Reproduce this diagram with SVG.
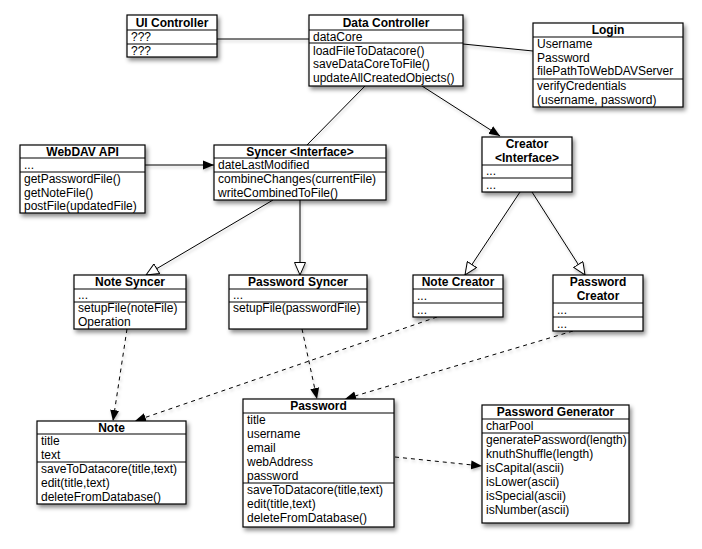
<svg xmlns="http://www.w3.org/2000/svg" width="702" height="549" viewBox="0 0 702 549">
  <style>
    .box { fill: #ffffff; stroke: #000000; stroke-width: 1.2; }
    .div { stroke: #000000; stroke-width: 1.1; }
    .t { font-family: "Liberation Sans", Arial, sans-serif; font-size: 12px; font-weight: bold; text-anchor: middle; fill: #000; }
    .a { font-family: "Liberation Sans", Arial, sans-serif; font-size: 12px; fill: #000; }
    .ln { fill: none; stroke: #000000; stroke-width: 1; }
    .dash { fill: none; stroke: #000000; stroke-width: 1; stroke-dasharray: 4 4; }
    .node { filter: url(#shadow); }
  </style>
  <defs>
    <filter id="shadow" x="-10%" y="-10%" width="130%" height="130%">
      <feDropShadow dx="2" dy="3" stdDeviation="2" flood-color="#000" flood-opacity="0.45"/>
    </filter>
    <filter id="lshadow" x="-10%" y="-10%" width="130%" height="130%">
      <feDropShadow dx="1" dy="2" stdDeviation="1.5" flood-color="#000" flood-opacity="0.25"/>
    </filter>
    <marker id="filled" markerUnits="userSpaceOnUse" markerWidth="12" markerHeight="10" refX="11" refY="5" orient="auto">
      <path d="M0,0.5 L11,5 L0,9.5 z" fill="#000"/>
    </marker>
    <marker id="hollow" markerUnits="userSpaceOnUse" markerWidth="14" markerHeight="12" refX="13" refY="6" orient="auto">
      <path d="M0.5,0.5 L13,6 L0.5,11.5 z" fill="#fff" stroke="#000" stroke-width="1"/>
    </marker>
  </defs>

  <rect width="702" height="549" fill="#ffffff"/>

  <!-- connectors -->
  <g id="connectors" filter="url(#lshadow)">
    <line class="ln" x1="217" y1="39" x2="309" y2="39"/>
    <line class="ln" x1="463" y1="44" x2="533" y2="51"/>
    <line class="ln" x1="365" y1="86" x2="307" y2="145"/>
    <line class="ln" x1="422" y1="86" x2="500" y2="136" marker-end="url(#filled)"/>
    <line class="ln" x1="145" y1="165" x2="214" y2="165" marker-end="url(#filled)"/>
    <line class="ln" x1="273" y1="200" x2="146" y2="275" marker-end="url(#hollow)"/>
    <line class="ln" x1="300" y1="200" x2="300" y2="275" marker-end="url(#hollow)"/>
    <line class="ln" x1="520" y1="192" x2="465" y2="275" marker-end="url(#hollow)"/>
    <line class="ln" x1="532" y1="192" x2="585" y2="275" marker-end="url(#hollow)"/>
    <line class="dash" x1="127" y1="329" x2="113" y2="421" marker-end="url(#filled)"/>
    <line class="dash" x1="302" y1="329" x2="317" y2="399" marker-end="url(#filled)"/>
    <line class="dash" x1="437" y1="317" x2="135" y2="421" marker-end="url(#filled)"/>
    <line class="dash" x1="573" y1="331" x2="345" y2="399" marker-end="url(#filled)"/>
    <line class="dash" x1="395" y1="457" x2="482" y2="466" marker-end="url(#filled)"/>
  </g>

  <!-- UI Controller -->
  <g id="ui-controller">
    <rect class="box node" x="127" y="15" width="90" height="42"/>
    <line class="div" x1="127" y1="30" x2="217" y2="30"/>
    <line class="div" x1="127" y1="44" x2="217" y2="44"/>
    <text class="t" x="172" y="27">UI Controller</text>
    <text class="a" x="131" y="41">???</text>
    <text class="a" x="131" y="55">???</text>
  </g>

  <!-- Data Controller -->
  <g id="data-controller">
    <rect class="box node" x="309" y="15" width="154" height="71"/>
    <line class="div" x1="309" y1="30" x2="463" y2="30"/>
    <line class="div" x1="309" y1="43" x2="463" y2="43"/>
    <text class="t" x="386" y="27">Data Controller</text>
    <text class="a" x="313" y="41">dataCore</text>
    <text class="a" x="313" y="55">loadFileToDatacore()</text>
    <text class="a" x="313" y="68">saveDataCoreToFile()</text>
    <text class="a" x="313" y="82">updateAllCreatedObjects()</text>
  </g>

  <!-- Login -->
  <g id="login">
    <rect class="box node" x="533" y="23" width="150" height="84"/>
    <line class="div" x1="533" y1="37" x2="683" y2="37"/>
    <line class="div" x1="533" y1="79" x2="683" y2="79"/>
    <text class="t" x="608" y="34">Login</text>
    <text class="a" x="537" y="48">Username</text>
    <text class="a" x="537" y="62">Password</text>
    <text class="a" x="537" y="75">filePathToWebDAVServer</text>
    <text class="a" x="537" y="90">verifyCredentials</text>
    <text class="a" x="537" y="104">(username, password)</text>
  </g>

  <!-- WebDAV API -->
  <g id="webdav-api">
    <rect class="box node" x="20" y="145" width="125" height="68"/>
    <line class="div" x1="20" y1="158" x2="145" y2="158"/>
    <line class="div" x1="20" y1="172" x2="145" y2="172"/>
    <text class="t" x="82.5" y="156">WebDAV API</text>
    <text class="a" x="24" y="169">...</text>
    <text class="a" x="24" y="183">getPasswordFile()</text>
    <text class="a" x="24" y="197">getNoteFile()</text>
    <text class="a" x="24" y="210">postFile(updatedFile)</text>
  </g>

  <!-- Syncer interface -->
  <g id="syncer">
    <rect class="box node" x="214" y="145" width="172" height="55"/>
    <line class="div" x1="214" y1="158" x2="386" y2="158"/>
    <line class="div" x1="214" y1="172" x2="386" y2="172"/>
    <text class="t" x="300" y="156">Syncer &lt;Interface&gt;</text>
    <text class="a" x="218" y="169">dateLastModified</text>
    <text class="a" x="218" y="183">combineChanges(currentFile)</text>
    <text class="a" x="218" y="197">writeCombinedToFile()</text>
  </g>

  <!-- Creator interface -->
  <g id="creator">
    <rect class="box node" x="482" y="137" width="90" height="55"/>
    <line class="div" x1="482" y1="165" x2="572" y2="165"/>
    <line class="div" x1="482" y1="178" x2="572" y2="178"/>
    <text class="t" x="527" y="148">Creator</text>
    <text class="t" x="527" y="162">&lt;Interface&gt;</text>
    <text class="a" x="486" y="175">...</text>
    <text class="a" x="486" y="189">...</text>
  </g>

  <!-- Note Syncer -->
  <g id="note-syncer">
    <rect class="box node" x="74" y="275" width="112" height="54"/>
    <line class="div" x1="74" y1="289" x2="186" y2="289"/>
    <line class="div" x1="74" y1="302" x2="186" y2="302"/>
    <text class="t" x="130" y="286">Note Syncer</text>
    <text class="a" x="78" y="299">...</text>
    <text class="a" x="78" y="312">setupFile(noteFile)</text>
    <text class="a" x="78" y="326">Operation</text>
  </g>

  <!-- Password Syncer -->
  <g id="password-syncer">
    <rect class="box node" x="229" y="275" width="138" height="54"/>
    <line class="div" x1="229" y1="289" x2="367" y2="289"/>
    <line class="div" x1="229" y1="302" x2="367" y2="302"/>
    <text class="t" x="298" y="286">Password Syncer</text>
    <text class="a" x="233" y="299">...</text>
    <text class="a" x="233" y="312">setupFile(passwordFile)</text>
  </g>

  <!-- Note Creator -->
  <g id="note-creator">
    <rect class="box node" x="413" y="275" width="90" height="42"/>
    <line class="div" x1="413" y1="289" x2="503" y2="289"/>
    <line class="div" x1="413" y1="303" x2="503" y2="303"/>
    <text class="t" x="458" y="286">Note Creator</text>
    <text class="a" x="417" y="300">...</text>
    <text class="a" x="417" y="314">...</text>
  </g>

  <!-- Password Creator -->
  <g id="password-creator">
    <rect class="box node" x="553" y="275" width="90" height="56"/>
    <line class="div" x1="553" y1="303" x2="643" y2="303"/>
    <line class="div" x1="553" y1="317" x2="643" y2="317"/>
    <text class="t" x="598" y="286">Password</text>
    <text class="t" x="598" y="300">Creator</text>
    <text class="a" x="557" y="314">...</text>
    <text class="a" x="557" y="328">...</text>
  </g>

  <!-- Note -->
  <g id="note">
    <rect class="box node" x="37" y="421" width="149" height="83"/>
    <line class="div" x1="37" y1="434" x2="186" y2="434"/>
    <line class="div" x1="37" y1="462" x2="186" y2="462"/>
    <text class="t" x="111.5" y="432">Note</text>
    <text class="a" x="41" y="445">title</text>
    <text class="a" x="41" y="459">text</text>
    <text class="a" x="41" y="473">saveToDatacore(title,text)</text>
    <text class="a" x="41" y="487">edit(title,text)</text>
    <text class="a" x="41" y="501">deleteFromDatabase()</text>
  </g>

  <!-- Password -->
  <g id="password">
    <rect class="box node" x="243" y="399" width="151" height="128"/>
    <line class="div" x1="243" y1="413" x2="394" y2="413"/>
    <line class="div" x1="243" y1="483" x2="394" y2="483"/>
    <text class="t" x="318.5" y="410">Password</text>
    <text class="a" x="247" y="424">title</text>
    <text class="a" x="247" y="438">username</text>
    <text class="a" x="247" y="452">email</text>
    <text class="a" x="247" y="466">webAddress</text>
    <text class="a" x="247" y="480">password</text>
    <text class="a" x="247" y="494">saveToDatacore(title,text)</text>
    <text class="a" x="247" y="508">edit(title,text)</text>
    <text class="a" x="247" y="522">deleteFromDatabase()</text>
  </g>

  <!-- Password Generator -->
  <g id="password-generator">
    <rect class="box node" x="482" y="405" width="147" height="118"/>
    <line class="div" x1="482" y1="419" x2="629" y2="419"/>
    <line class="div" x1="482" y1="433" x2="629" y2="433"/>
    <text class="t" x="555.5" y="416">Password Generator</text>
    <text class="a" x="486" y="430">charPool</text>
    <text class="a" x="486" y="444">generatePassword(length)</text>
    <text class="a" x="486" y="458">knuthShuffle(length)</text>
    <text class="a" x="486" y="472">isCapital(ascii)</text>
    <text class="a" x="486" y="486">isLower(ascii)</text>
    <text class="a" x="486" y="500">isSpecial(ascii)</text>
    <text class="a" x="486" y="514">isNumber(ascii)</text>
  </g>
</svg>
